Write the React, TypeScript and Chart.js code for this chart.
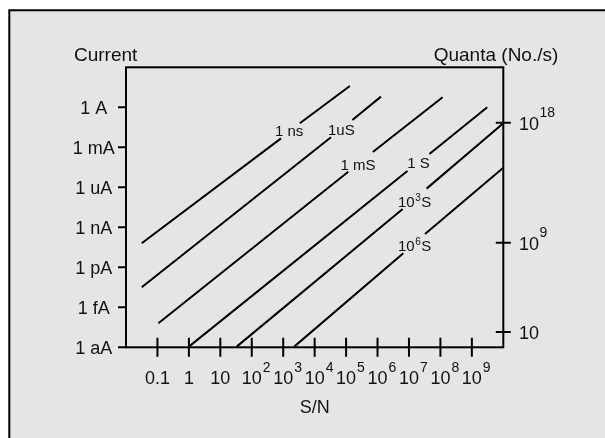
import React, { useEffect, useRef } from "react";
import { Chart, registerables } from "chart.js";

Chart.register(...registerables);

// S/N axis: log10 values and labels
const snTickValues = [-1, 0, 1, 2, 3, 4, 5, 6, 7, 8, 9];
const snTickBase = ["0.1", "1", "10", "10", "10", "10", "10", "10", "10", "10", "10"];
const snTickSup = ["", "", "", "2", "3", "4", "5", "6", "7", "8", "9"];

// Current axis: log10 amperes
const currentTickValues = [0, -3, -6, -9, -12, -15, -18];
const currentTickLabels = ["1 A", "1 mA", "1 uA", "1 nA", "1 pA", "1 fA", "1 aA"];

// Quanta axis (right), placed on the current scale as drawn
const quantaTickValues = [-1.15, -10.15, -16.85];
const quantaTickBase = ["10", "10", "10"];
const quantaTickSup = ["18", "9", ""];

// Curves: [log10 S/N, log10 current]; null marks the gap where the label sits
const curve1ns = [[-1.5, -10.2], [2.93, -2.33], null, [3.53, -1.2], [5.12, 1.6]];
const curve1us = [[-1.5, -13.5], [4.52, -2.25], null, [5.2, -0.95], [6.11, 0.8]];
const curve1ms = [[-0.97, -16.2], [5.07, -4.83], null, [5.85, -3.35], [8.07, 0.75]];
const curve1s = [[0.0, -17.95], [6.95, -4.78], null, [7.65, -3.5], [9.49, 0.0]];
const curve1e3s = [[1.52, -17.95], [6.8, -7.63], null, [7.56, -6.1], [10, -1.2]];
const curve1e6s = [[3.35, -17.95], [6.82, -10.95], null, [7.51, -9.5], [10, -4.53]];

const curveNames = ["1 ns", "1uS", "1 mS", "1 S", "10³S", "10⁶S"];
const curveLabelBase = ["1 ns", "1uS", "1 mS", "1 S", "10", "10"];
const curveLabelSup = ["", "", "", "", "3", "6"];
const curveLabelSuffix = ["", "", "", "", "S", "S"];
const curveLabelX = [3.19, 4.85, 5.38, 7.3, 7.18, 7.18];
const curveLabelY = [-2.15, -2.08, -4.7, -4.53, -7.455, -10.78];

const curves = [curve1ns, curve1us, curve1ms, curve1s, curve1e3s, curve1e6s];

const FONT = '"Liberation Sans", Arial, Helvetica, sans-serif';

function toPoints(c: (number[] | null)[]) {
  const out: { x: number; y: number | null }[] = [];
  c.forEach((p, i) => {
    if (p) out.push({ x: p[0], y: p[1] });
    else {
      const a = c[i - 1] as number[];
      const b = c[i + 1] as number[];
      out.push({ x: (a[0] + b[0]) / 2, y: null });
    }
  });
  return out;
}

const decor = {
  id: "decor",
  beforeDraw(chart: any) {
    const ctx = chart.ctx;
    ctx.save();
    ctx.fillStyle = "#ffffff";
    ctx.fillRect(0, 0, chart.width, chart.height);
    ctx.fillStyle = "#e5e5e5";
    ctx.fillRect(9.3, 10.3, chart.width, chart.height);
    ctx.strokeStyle = "#000";
    ctx.lineWidth = 2;
    ctx.beginPath();
    ctx.moveTo(9.3, chart.height + 20);
    ctx.lineTo(9.3, 10.3);
    ctx.lineTo(chart.width + 20, 10.3);
    ctx.stroke();
    ctx.restore();
  },
  afterDraw(chart: any) {
    const ctx = chart.ctx;
    const xs = chart.scales.x;
    const ys = chart.scales.y;
    const { left, right, top, bottom } = chart.chartArea;
    ctx.save();
    ctx.strokeStyle = "#000";
    ctx.fillStyle = "#111";
    ctx.lineWidth = 2;
    ctx.strokeRect(left, top, right - left, bottom - top);

    ctx.beginPath();
    snTickValues.forEach((v) => {
      const px = xs.getPixelForValue(v);
      ctx.moveTo(px, bottom - 9.5);
      ctx.lineTo(px, bottom + 9.5);
    });
    currentTickValues.forEach((v) => {
      const py = ys.getPixelForValue(v);
      ctx.moveTo(left - 8, py);
      ctx.lineTo(left, py);
    });
    quantaTickValues.forEach((v) => {
      const py = ys.getPixelForValue(v);
      ctx.moveTo(right - 7.5, py);
      ctx.lineTo(right + 7.5, py);
    });
    ctx.stroke();

    ctx.textBaseline = "alphabetic";
    snTickValues.forEach((v, i) => {
      const px = xs.getPixelForValue(v);
      ctx.font = `18px ${FONT}`;
      ctx.textAlign = "center";
      ctx.fillText(snTickBase[i], px, bottom + 37);
      const w = ctx.measureText(snTickBase[i]).width;
      if (snTickSup[i]) {
        ctx.font = `14px ${FONT}`;
        ctx.textAlign = "left";
        ctx.fillText(snTickSup[i], px + w / 2 + 1, bottom + 24.4);
      }
    });
    ctx.font = `18px ${FONT}`;
    ctx.textAlign = "center";
    currentTickValues.forEach((v, i) => {
      const py = ys.getPixelForValue(v);
      ctx.fillText(currentTickLabels[i], left - 32.3, py + 6.6);
    });
    quantaTickValues.forEach((v, i) => {
      const py = ys.getPixelForValue(v);
      ctx.font = `18px ${FONT}`;
      ctx.textAlign = "left";
      ctx.fillText(quantaTickBase[i], right + 15.7, py + 7);
      const w = ctx.measureText(quantaTickBase[i]).width;
      if (quantaTickSup[i]) {
        ctx.font = `14px ${FONT}`;
        ctx.fillText(quantaTickSup[i], right + 15.7 + w + 0.5, py - 6);
      }
    });
    ctx.font = `19px ${FONT}`;
    ctx.textAlign = "left";
    ctx.fillText("Current", 74, 61);
    ctx.textAlign = "right";
    ctx.fillText("Quanta (No./s)", right + 55, 61);
    ctx.font = `18px ${FONT}`;
    ctx.textAlign = "center";
    ctx.fillText("S/N", (left + right) / 2, bottom + 65.4);

    curveNames.forEach((_, i) => {
      const cx = xs.getPixelForValue(curveLabelX[i]);
      const by = ys.getPixelForValue(curveLabelY[i]);
      ctx.font = `15px ${FONT}`;
      const wb = ctx.measureText(curveLabelBase[i]).width;
      const ws = ctx.measureText(curveLabelSuffix[i]).width;
      ctx.font = `10px ${FONT}`;
      const wsup = curveLabelSup[i] ? ctx.measureText(curveLabelSup[i]).width + 1 : 0;
      const total = wb + wsup + ws;
      let x0 = cx - total / 2;
      ctx.textAlign = "left";
      ctx.font = `15px ${FONT}`;
      ctx.fillText(curveLabelBase[i], x0, by);
      x0 += wb;
      if (curveLabelSup[i]) {
        ctx.font = `10px ${FONT}`;
        ctx.fillText(curveLabelSup[i], x0 + 0.5, by - 6);
        x0 += wsup;
      }
      if (curveLabelSuffix[i]) {
        ctx.font = `15px ${FONT}`;
        ctx.fillText(curveLabelSuffix[i], x0, by);
      }
    });
    ctx.restore();
  },
};

export default function App() {
  const ref = useRef<HTMLCanvasElement | null>(null);
  useEffect(() => {
    if (!ref.current) return;
    const chart = new Chart(ref.current, {
      type: "line",
      data: {
        datasets: curves.map((c, i) => ({
          label: curveNames[i],
          data: toPoints(c),
          borderColor: "#000",
          borderWidth: 2,
          pointRadius: 0,
          fill: false,
          spanGaps: false,
          tension: 0,
        })),
      },
      options: {
        animation: false,
        responsive: false,
        maintainAspectRatio: false,
        layout: { padding: { left: 126, top: 67.3, right: 101.7, bottom: 90.7 } },
        plugins: { legend: { display: false }, tooltip: { enabled: false } },
        scales: {
          x: { type: "linear", min: -2, max: 10, display: false },
          y: { type: "linear", min: -18, max: 3, display: false },
        },
      },
      plugins: [decor],
    });
    return () => chart.destroy();
  }, []);
  return (
    <div style={{ position: "fixed", left: 0, top: 0, width: 605, height: 438 }}>
      <canvas ref={ref} width={605} height={438} style={{ display: "block" }} />
    </div>
  );
}
